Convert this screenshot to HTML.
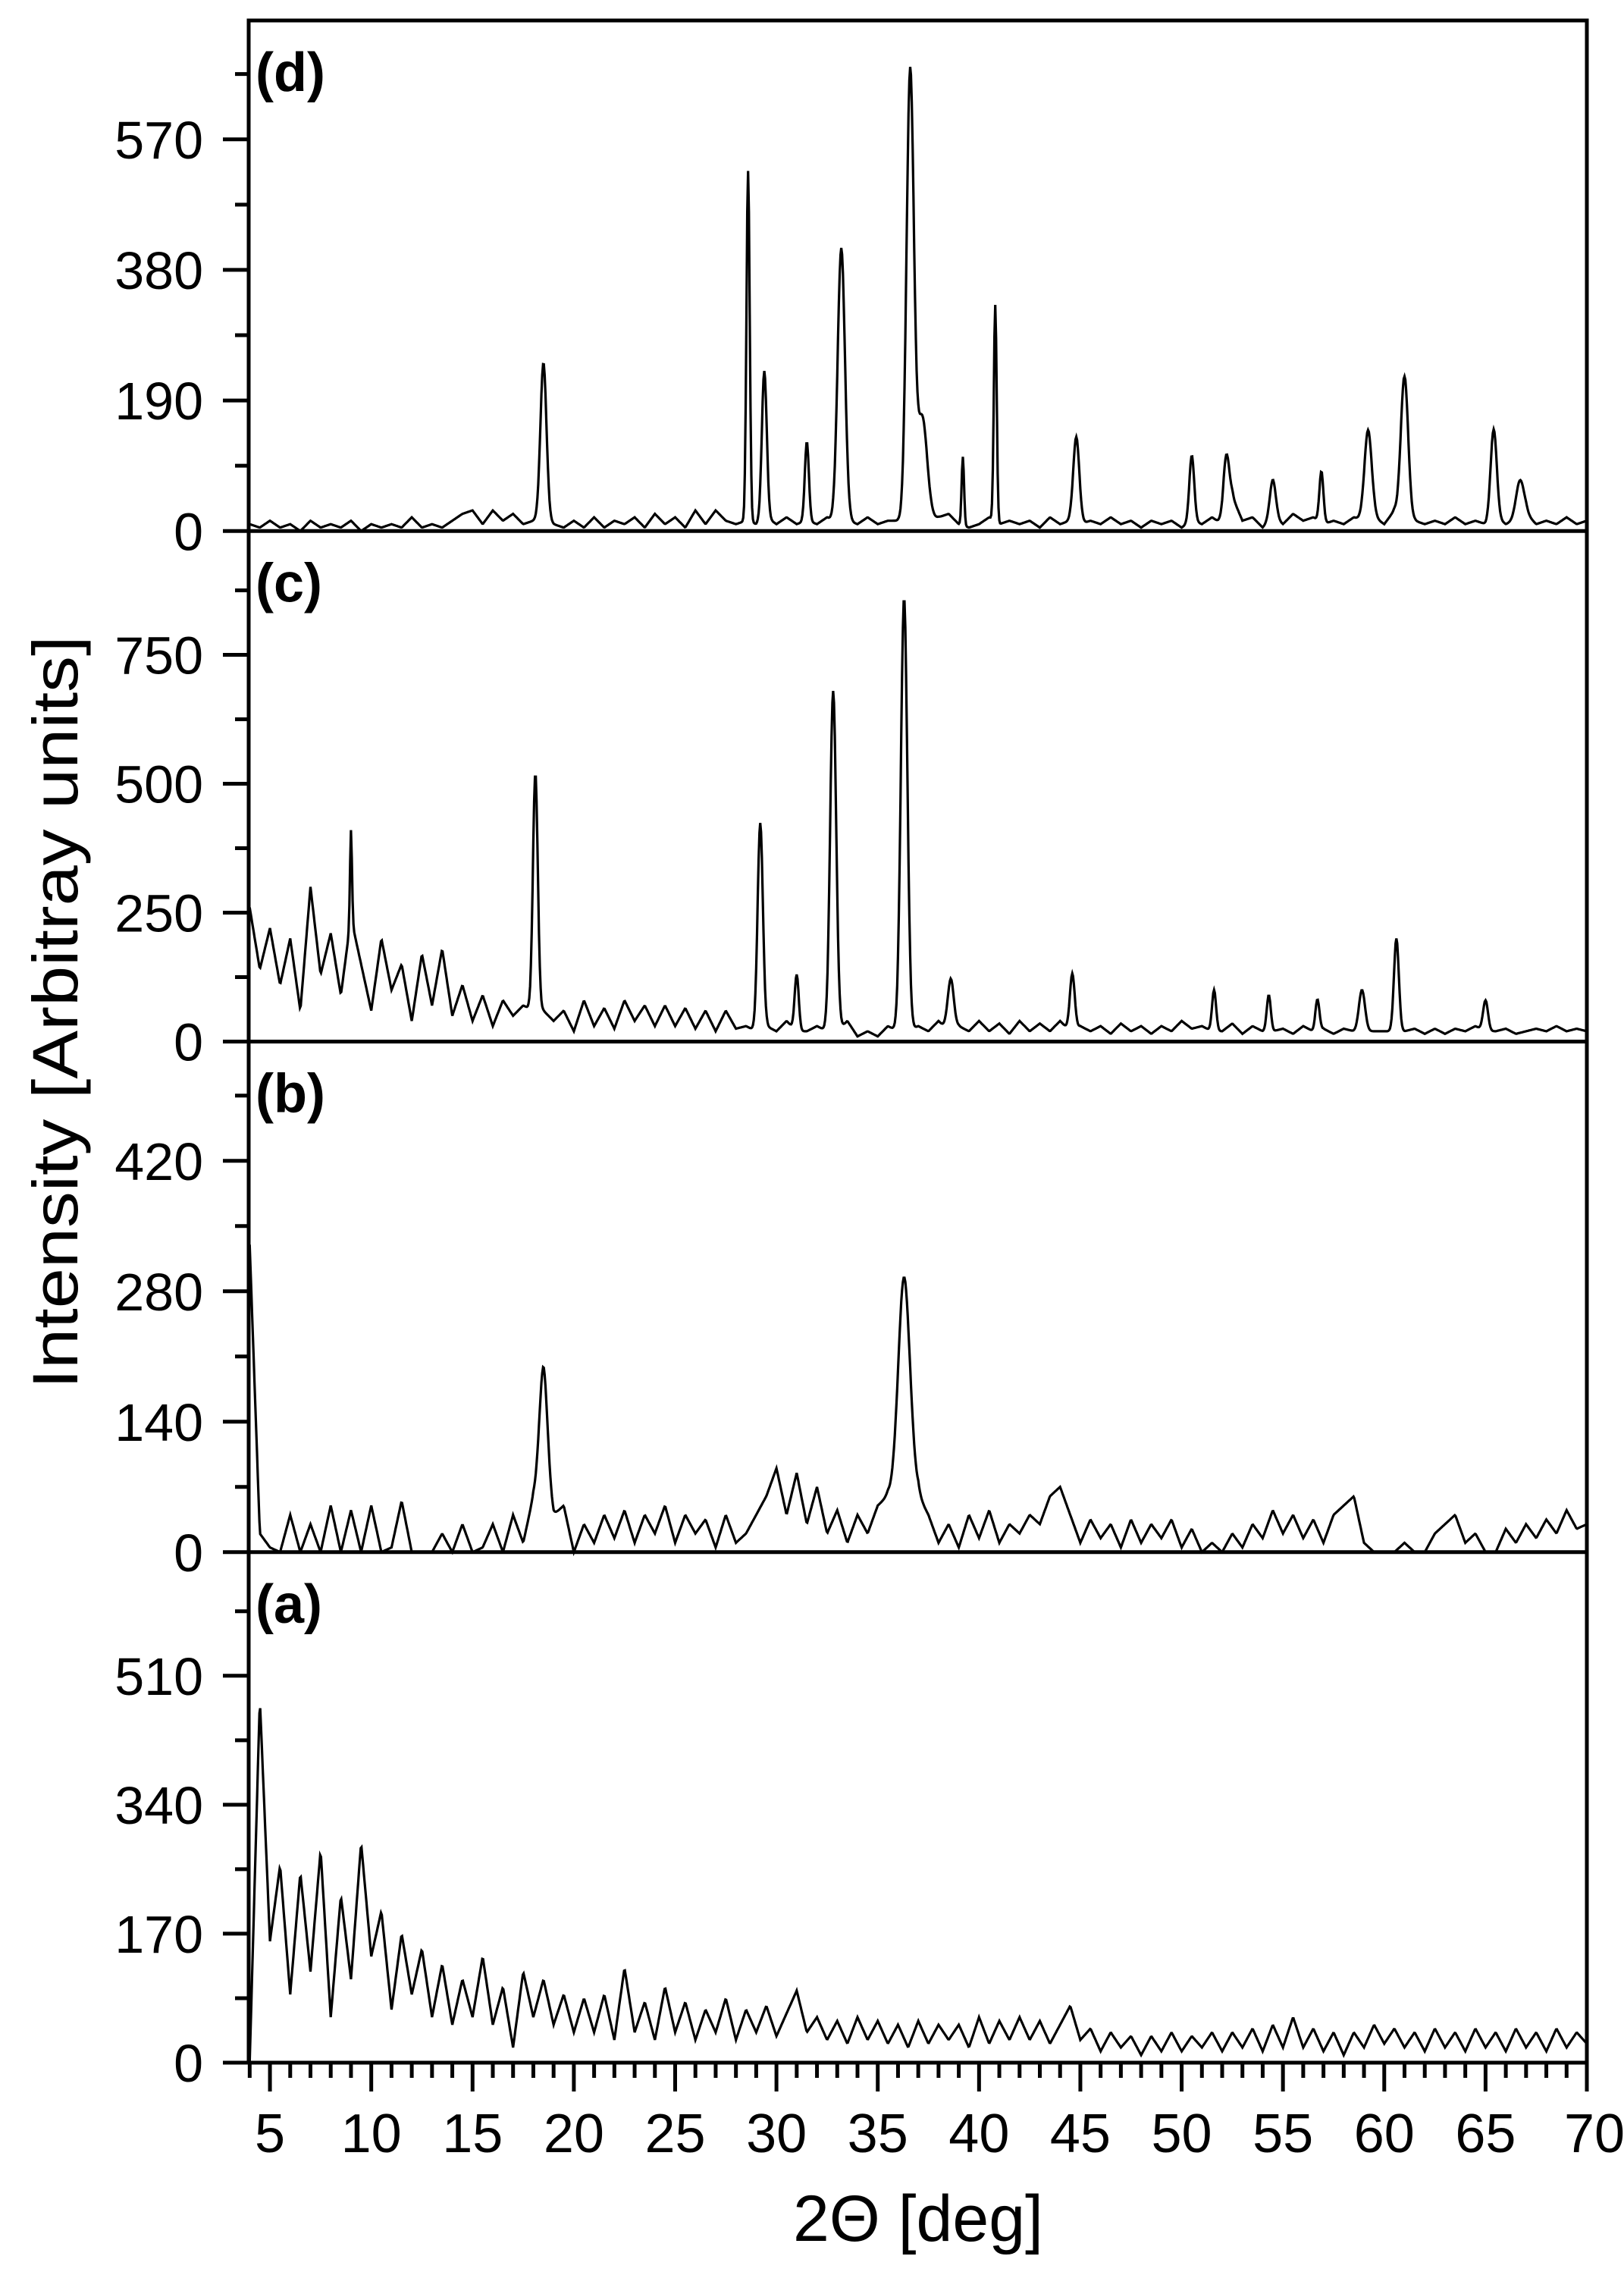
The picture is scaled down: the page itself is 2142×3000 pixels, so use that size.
<!DOCTYPE html>
<html><head><meta charset="utf-8"><style>
html,body{margin:0;padding:0;background:#fff;}
svg{display:block;}
text{font-family:"Liberation Sans",Arial,sans-serif;fill:#000;}
</style></head><body>
<svg id="chart" width="2142" height="3000" viewBox="0 0 2142 3000" xmlns="http://www.w3.org/2000/svg">
<text x="0" y="0" font-size="84" text-anchor="middle" dominant-baseline="central" transform="translate(73,1335) rotate(-90)" textLength="993" lengthAdjust="spacingAndGlyphs">Intensity [Arbitray units]</text>
<text x="1211" y="2955" font-size="86" text-anchor="middle">2Θ [deg]</text>
</svg>
<script>
// ---- data ----
const baseStart = 4.0, baseStep = 0.5;
const baseA = [0,480,160,260,90,250,120,280,60,220,110,290,140,200,70,170,90,150,60,130,50,110,60,140,50,100,20,120,60,110,50,90,40,85,40,90,30,125,40,80,30,100,40,80,30,70,40,85,30,70,40,75,35,65,95,40,60,30,55,25,60,30,55,25,50,20,55,25,50,30,50,20,60,25,55,30,60,30,55,25,50,75,30,45,15,40,20,35,10,35,15,40,15,35,20,40,15,40,20,45,15,50,20,60,20,45,15,40,10,40,20,50,25,45,20,40,15,45,20,40,15,45,20,40,15,45,20,40,15,45,20,40,25];
const baseB = [330,20,5,0,40,0,30,0,50,0,45,0,50,0,5,55,0,0,0,20,0,30,0,5,30,0,40,10,60,80,40,50,0,30,10,40,15,45,10,40,20,50,10,40,20,35,5,40,10,20,40,60,90,40,85,30,70,20,45,10,40,20,50,60,40,40,60,40,10,30,5,40,15,45,10,30,20,40,30,60,70,40,10,35,15,30,5,35,10,30,15,35,5,25,0,10,0,20,5,30,15,45,20,40,15,35,10,40,50,60,10,0,0,0,10,0,0,20,30,40,10,20,0,0,25,10,30,15,35,20,45,25,30];
const baseC = [260,140,220,110,200,60,300,130,210,90,240,150,60,200,100,150,40,170,70,180,50,110,40,90,30,80,50,70,60,60,40,60,20,80,30,65,25,80,40,70,30,70,30,65,25,60,20,60,25,30,20,30,20,40,20,20,30,20,20,40,10,20,10,30,20,20,30,20,40,20,30,20,40,20,35,15,40,20,35,20,40,20,30,20,30,15,35,20,30,15,30,20,40,25,30,20,20,35,15,30,20,20,25,15,30,20,25,15,25,20,20,20,20,20,20,25,15,25,15,25,20,30,20,20,25,15,20,25,20,30,20,25,20];
const baseD = [10,5,15,5,10,0,15,5,10,5,15,0,10,5,10,5,20,5,10,5,15,25,30,10,30,15,25,10,15,20,10,5,15,5,20,5,15,10,20,5,25,10,20,5,30,10,30,15,10,15,10,20,10,20,10,15,10,20,10,15,10,20,10,15,15,10,20,10,20,25,10,5,10,20,10,15,10,15,5,20,10,15,10,15,10,20,10,15,5,15,10,15,5,15,10,20,10,50,15,20,5,20,10,25,15,20,10,15,10,20,15,20,10,30,10,15,10,15,10,20,10,15,10,20,10,15,25,10,15,10,20,10,15];
const peaksDPos = [18.5,28.6,29.4,31.5,33.2,36.6,37.2,39.2,40.8,44.8,50.5,52.2,54.5,56.9,59.2,61.0,65.4,66.7];
const peaksDHeight = [225,510,215,115,400,655,150,100,315,125,95,85,55,75,130,215,130,55];
const peaksCPos = [9.0,18.1,29.2,31.0,32.8,36.3,38.6,44.6,51.6,54.3,56.7,58.9,60.6,65.0];
const peaksCHeight = [170,460,400,110,660,840,100,110,80,70,60,80,180,60];
const peaksBPos = [18.5,36.3];
const peaksBHeight = [120,255];
const peaksAPos = [];
const peaksAHeight = [];
const panelNames = ["d","c","b","a"];
const yMaxes = [743,990,548,673];
const yTickSteps = [190,250,140,170];
const xTickLabels = [5,10,15,20,25,30,35,40,45,50,55,60,65,70];

// ---- layout ----
const svg = document.getElementById('chart');
const NS = "http://www.w3.org/2000/svg";
const L = 328, R = 2093, TOP = 27, PH = 673.25;
const XMIN = 3.95, XMAX = 70;
function xS(v){ return L + (v - XMIN) * (R - L) / (XMAX - XMIN); }
function yS(i, v){ const b = TOP + PH * (i + 1); return b - v / yMaxes[i] * PH; }
function mk(tag, attrs){ const e = document.createElementNS(NS, tag); for (const k in attrs) e.setAttribute(k, attrs[k]); svg.appendChild(e); return e; }

const widthsD = [0.15,0.08,0.12,0.1,0.18,0.18,0.25,0.06,0.07,0.15,0.12,0.15,0.15,0.1,0.18,0.18,0.15,0.2];
const widthsC = [0.05,0.12,0.13,0.1,0.15,0.16,0.15,0.12,0.1,0.1,0.1,0.15,0.12,0.12];
const widthsB = [0.2,0.3];
const bases = [baseD, baseC, baseB, baseA];
const pPos = [peaksDPos, peaksCPos, peaksBPos, peaksAPos];
const pH = [peaksDHeight, peaksCHeight, peaksBHeight, peaksAHeight];
const pW = [widthsD, widthsC, widthsB, []];

function valueAt(i, x){
  const b = bases[i];
  const f = (x - baseStart) / baseStep;
  const k = Math.max(0, Math.min(b.length - 2, Math.floor(f)));
  const t = Math.max(0, Math.min(1, f - k));
  let v = b[k] * (1 - t) + b[k + 1] * t;
  for (let j = 0; j < pPos[i].length; j++) {
    const d = (x - pPos[i][j]) / pW[i][j];
    v += pH[i][j] * Math.exp(-0.5 * d * d);
  }
  return Math.min(v, yMaxes[i]);
}

for (let i = 0; i < 4; i++) {
  const top = TOP + PH * i, bot = TOP + PH * (i + 1);
  let d = "";
  for (let x = 4.0; x <= 70.0001; x += 0.04) {
    d += (d ? "L" : "M") + xS(x).toFixed(1) + "," + yS(i, valueAt(i, x)).toFixed(1);
  }
  const p = mk('path', {d: d, fill: 'none', stroke: '#000', 'stroke-width': 3.2, 'stroke-linejoin': 'miter'});
  
  
  const st = yTickSteps[i];
  for (let v = 0; v <= yMaxes[i] + 0.01; v += st / 2) {
    const y = yS(i, v);
    const major = Math.round(v / st * 2) % 2 === 0;
    const tk = mk('line', {x1: L - (major ? 34 : 18), x2: L, y1: y, y2: y, stroke: '#000', 'stroke-width': 5});
    
    
    if (major) {
      const t = mk('text', {x: 268, y: y + 25, 'font-size': 70, 'text-anchor': 'end'});
      t.textContent = String(Math.round(v));
      
      
    }
  }
  const lb = mk('text', {x: 337, y: top + 93, 'font-size': 72, 'font-weight': 'bold'});
  lb.textContent = '(' + panelNames[i] + ')';
  
  
  const sep = mk('line', {x1: L, x2: R, y1: bot, y2: bot, stroke: '#000', 'stroke-width': 5});
  
  
}
const fr = mk('rect', {x: L, y: TOP, width: R - L, height: PH * 4, fill: 'none', stroke: '#000', 'stroke-width': 5});


const bottom = TOP + PH * 4;
for (let v = 4; v <= 70; v++) {
  const major = v % 5 === 0;
  const tk = mk('line', {x1: xS(v), x2: xS(v), y1: bottom, y2: bottom + (major ? 38 : 20), stroke: '#000', 'stroke-width': 5});
  
  
}
for (const v of xTickLabels) {
  const t = mk('text', {x: xS(v) + (v === 70 ? 10 : 0), y: 2838, 'font-size': 72, 'text-anchor': 'middle'});
  t.textContent = String(v);
  
  
}
</script>
</body></html>
